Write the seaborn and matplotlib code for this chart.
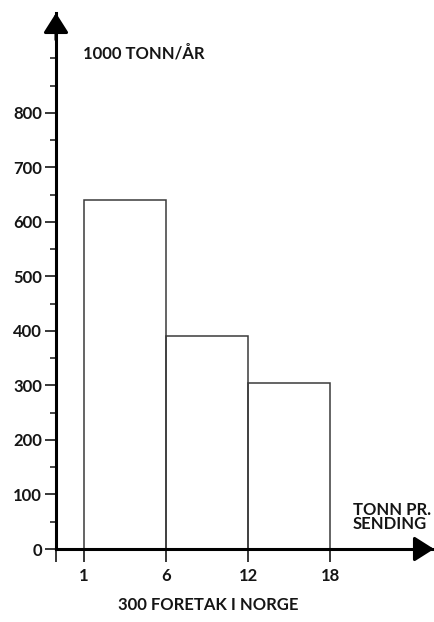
import numpy as np
import pandas as pd
import matplotlib
matplotlib.use("Agg")
import matplotlib.pyplot as plt
import seaborn as sns
from matplotlib.ticker import MultipleLocator

# Data
bin_labels = ["1", "6", "12", "18"]          # class edges, tonn pr. sending
tonnage = [640, 390, 305]                     # 1000 tonn/aar per class
y_ticks = [0, 100, 200, 300, 400, 500, 600, 700, 800]

sns.set_theme(style="white")
plt.rcParams["font.family"] = ["Lato", "DejaVu Sans"]

# classes are drawn with equal width, so use the class index as x
df = pd.DataFrame({"klasse": np.arange(len(tonnage)) + 0.5, "tonn": tonnage})

fig = plt.figure(figsize=(4.34, 6.22), dpi=100)
ax = fig.add_axes([56 / 434, 73 / 622, 378 / 434, 536 / 622])

sns.histplot(data=df, x="klasse", weights="tonn", bins=list(range(len(bin_labels))),
             fill=False, element="bars", color="#3a3a3a", linewidth=1.1, ax=ax)

ax.set_xlim(-0.341, 4.268)
ax.set_ylim(0, 983)
ax.set_xlabel("")
ax.set_ylabel("")

for side in ["top", "right"]:
    ax.spines[side].set_visible(False)
for side in ["left", "bottom"]:
    ax.spines[side].set_linewidth(2.2)
    ax.spines[side].set_color("black")

fs = 12

# ticks
ax.set_yticks(y_ticks)
ax.yaxis.set_minor_locator(MultipleLocator(50))
ax.tick_params(axis="y", which="major", direction="out", length=8, width=1.2,
               pad=2, labelsize=fs, colors="#151515", left=True)
ax.tick_params(axis="y", which="minor", direction="out", length=4.5, width=1.2, left=True)

ax.set_xticks([-0.341] + list(range(len(bin_labels))))
ax.set_xticklabels([""] + bin_labels)
ax.tick_params(axis="x", direction="out", length=9, width=1.2, pad=5,
               labelsize=fs, colors="#151515", bottom=True)
for lab in ax.get_xticklabels() + ax.get_yticklabels():
    lab.set_fontweight("bold")

# arrow heads on the axes
arrow = dict(arrowstyle="-|>,head_length=0.6,head_width=0.38", color="black",
             lw=2.2, mutation_scale=20, shrinkA=0, shrinkB=0)
ax.annotate("", xy=(0, 1.0), xytext=(0, 0.95), xycoords="axes fraction",
            arrowprops=arrow, annotation_clip=False)
ax.annotate("", xy=(1.0, 0), xytext=(0.95, 0), xycoords="axes fraction",
            arrowprops=arrow, annotation_clip=False)

# labels
fig.text(83 / 434, 1 - 53 / 622, "1000 TONN/ÅR", fontsize=fs, fontweight="bold",
         ha="left", va="center", color="#151515")
fig.text(353 / 434, 1 - 517 / 622, "TONN PR.\nSENDING", fontsize=fs, fontweight="bold",
         ha="left", va="center", linespacing=0.9, color="#151515")
fig.text(208 / 434, 1 - 605 / 622, "300 FORETAK I NORGE", fontsize=fs, fontweight="bold",
         ha="center", va="center", color="#151515")

fig.savefig("out.png", dpi=100, facecolor="white")
